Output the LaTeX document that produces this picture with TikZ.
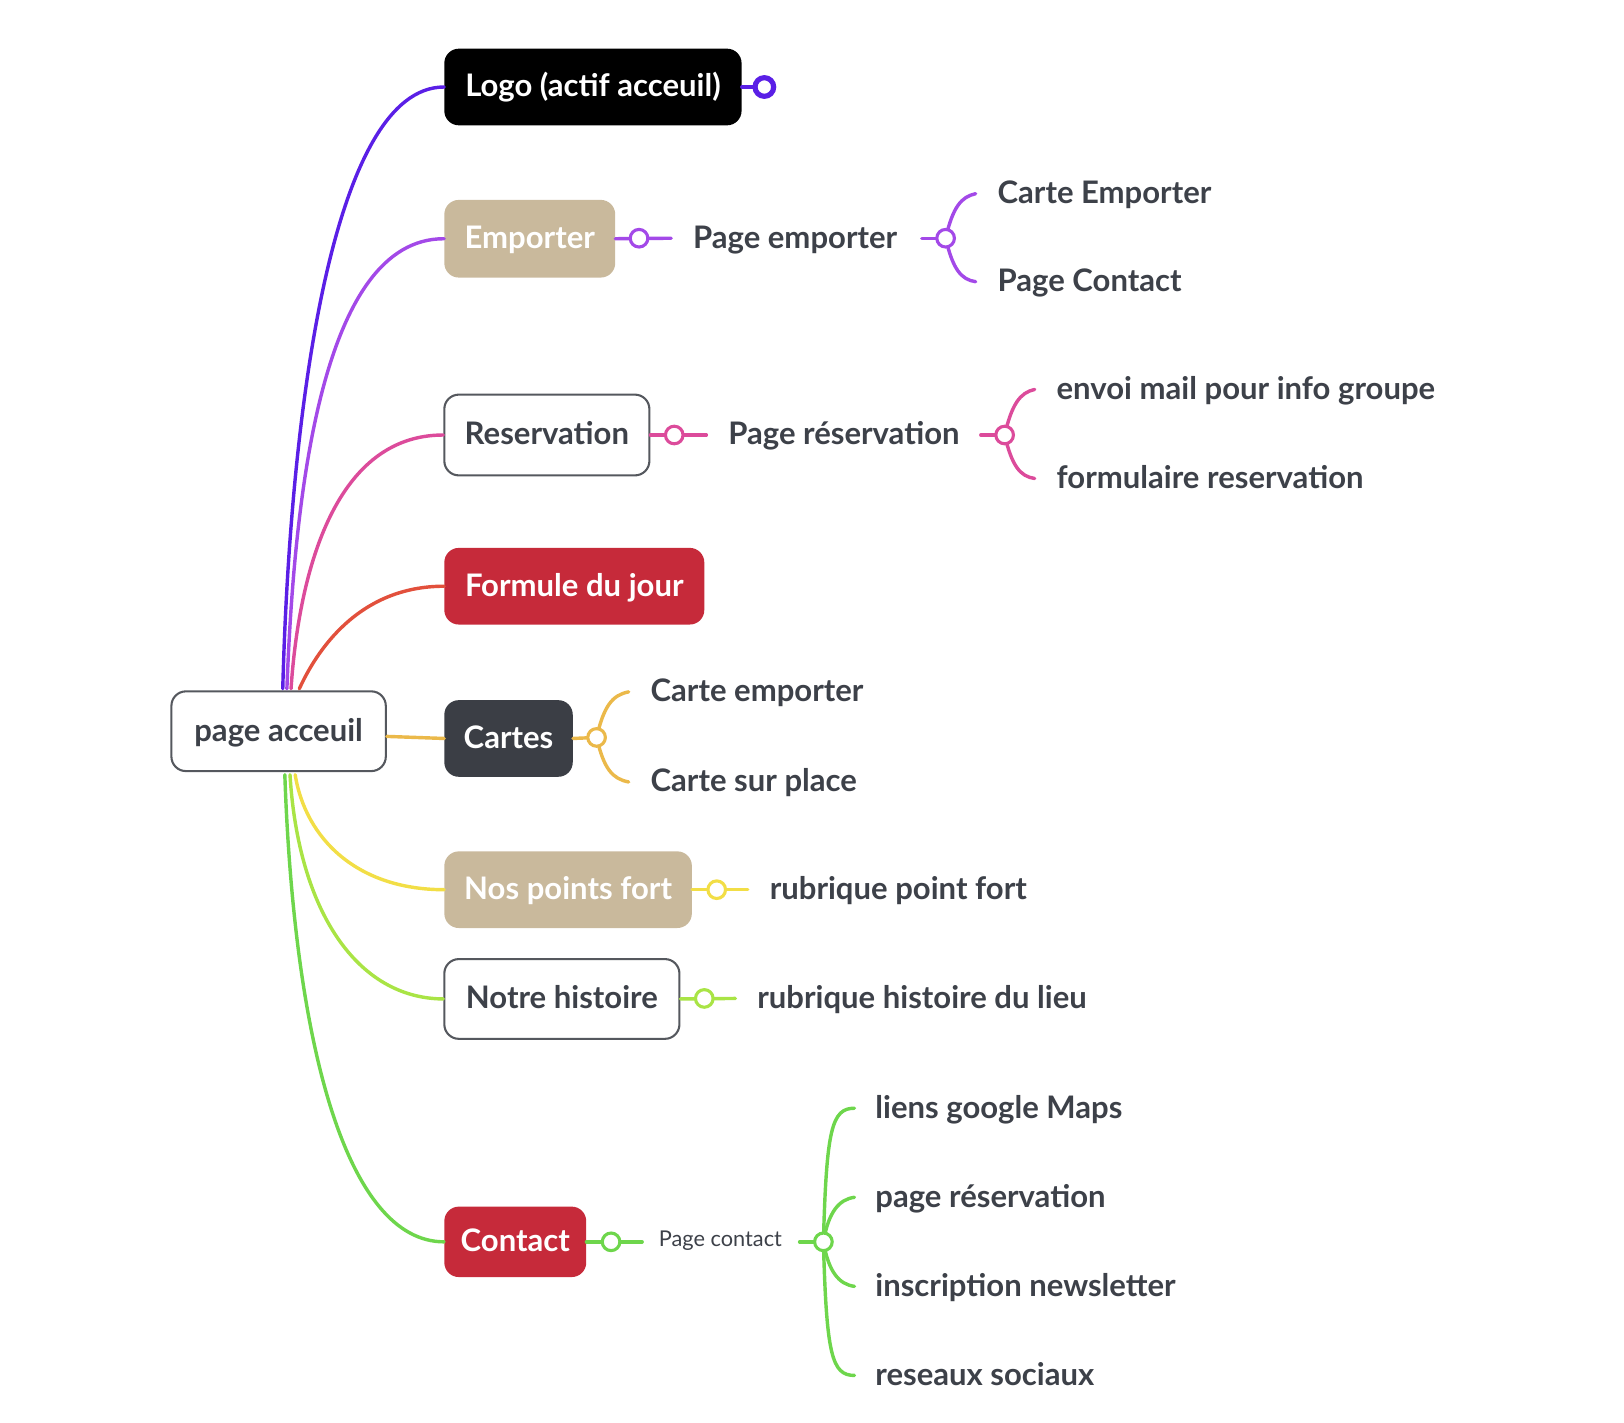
\documentclass[tikz,border=0pt]{standalone}
\usepackage{fontspec}
\setmainfont{Lato}
\usetikzlibrary{calc}
\definecolor{cLogo}{HTML}{5A1FE6}
\definecolor{cEmp}{HTML}{A349E8}
\definecolor{cRes}{HTML}{DC4B9B}
\definecolor{cForm}{HTML}{E2503C}
\definecolor{cCart}{HTML}{EBB94A}
\definecolor{cNos}{HTML}{F2DE46}
\definecolor{cHist}{HTML}{A9E445}
\definecolor{cCont}{HTML}{6ED64C}
\definecolor{beige}{HTML}{C9B99C}
\definecolor{boxred}{HTML}{C62A3A}
\definecolor{darkbox}{HTML}{3B3E45}
\definecolor{txt}{HTML}{3D4149}
\definecolor{bord}{HTML}{55585E}
\begin{document}
\begin{tikzpicture}[x=1pt,y=-1pt,
  box/.style={rounded corners=14pt, inner sep=0pt, font=\fontsize{30}{33}\selectfont\bfseries, text=white, text height=23pt, text depth=4pt},
  wbox/.style={box, draw=bord, fill=white, text=txt, line width=2pt},
  lab/.style={font=\fontsize{30}{33}\selectfont\bfseries, text=txt, anchor=west, inner sep=0pt, text height=23pt, text depth=4pt},
  slab/.style={font=\fontsize{21}{24}\selectfont, text=txt, anchor=west, inner sep=0pt},
  hub/.style={circle, draw, fill=white, line width=3pt, minimum size=17pt, inner sep=0pt},
  conn/.style={line width=3.3pt, line cap=round}]
\useasboundingbox (0,0) rectangle (1568,1373);

% main boxes
\node[wbox, minimum width=207pt, minimum height=77pt] (root) at (269,706) {page acceuil};
\node[box, fill=black, minimum width=287pt, minimum height=74pt] (logo) at (572.5,84) {Logo (actif acceuil)};
\node[box, fill=beige, minimum width=165pt, minimum height=75pt] (emp) at (511.5,230.5) {Emporter};
\node[wbox, minimum width=198pt, minimum height=78pt] (res) at (528,420) {Reservation};
\node[box, fill=boxred, minimum width=251pt, minimum height=74pt] (form) at (554.5,566) {Formule du jour};
\node[box, fill=darkbox, minimum width=124pt, minimum height=74pt] (cartes) at (491,713) {Cartes};
\node[box, fill=beige, minimum width=239pt, minimum height=74pt] (nos) at (548.5,859) {Nos points fort};
\node[wbox, minimum width=227pt, minimum height=77pt] (hist) at (542.5,964.5) {Notre histoire};
\node[box, fill=boxred, minimum width=137pt, minimum height=68pt] (contact) at (497.5,1199) {Contact};

% root connectors
\coordinate (t1) at (273,665);
\coordinate (t2) at (277,665);
\coordinate (t3) at (281,665);
\coordinate (t4) at (289,665);
\coordinate (b1) at (285,748);
\coordinate (b2) at (280,748);
\coordinate (b3) at (275,748);
\draw[conn, cLogo] (t1) .. controls (280,400) and (320,84) .. (logo.west);
\draw[conn, cEmp] (t2) .. controls (284,480) and (310,230) .. (emp.west);
\draw[conn, cRes] (t3) .. controls (288,560) and (320,420) .. (res.west);
\draw[conn, cForm] (t4) .. controls (305,630) and (345,566) .. (form.west);
\draw[conn, cCart] ($(root.east)+(0,5)$) -- (cartes.west);
\draw[conn, cNos] (b1) .. controls (295,810) and (345,859) .. (nos.west);
\draw[conn, cHist] (b2) .. controls (288,880) and (345,964) .. (hist.west);
\draw[conn, cCont] (b3) .. controls (284,1010) and (335,1199) .. (contact.west);

% Logo hub
\draw[conn, cLogo] (logo.east) -- (730,84);
\node[hub, draw=cLogo, line width=5pt, minimum size=18pt] (hl) at (738,84) {};

% Emporter branch
\node[lab] (pemp) at (669,230) {Page emporter};
\node[lab] (ce1) at (963,187) {Carte Emporter};
\node[lab] (ce2) at (963,272) {Page Contact};
\coordinate (ce1c) at (942,187);
\coordinate (ce2c) at (942,272);
\draw[conn, cEmp] (emp.east) -- (648,230);
\node[hub, draw=cEmp] (he1) at (617,230) {};
\draw[conn, cEmp] (890,230) -- (913,230);
\draw[conn, cEmp] (913,230) .. controls (920,200) and (928,190) .. (ce1c);
\draw[conn, cEmp] (913,230) .. controls (920,260) and (928,270) .. (ce2c);
\node[hub, draw=cEmp] (he2) at (913,230) {};

% Reservation branch
\node[lab] (pres) at (703,420) {Page réservation};
\node[lab] (cr1) at (1020,376) {envoi mail pour info groupe};
\node[lab] (cr2) at (1020,462) {formulaire reservation};
\coordinate (cr1c) at (999,376);
\coordinate (cr2c) at (999,462);
\draw[conn, cRes] (res.east) -- (682,420);
\node[hub, draw=cRes] (hr1) at (651,420) {};
\draw[conn, cRes] (947,420) -- (970,420);
\draw[conn, cRes] (970,420) .. controls (977,390) and (985,379) .. (cr1c);
\draw[conn, cRes] (970,420) .. controls (977,450) and (985,460) .. (cr2c);
\node[hub, draw=cRes] (hr2) at (970,420) {};

% Cartes branch
\node[lab] (cc1) at (628,668) {Carte emporter};
\node[lab] (cc2) at (628,755) {Carte sur place};
\coordinate (cc1c) at (607,668);
\coordinate (cc2c) at (607,755);
\draw[conn, cCart] (cartes.east) -- (576,712);
\draw[conn, cCart] (576,712) .. controls (583,682) and (591,671) .. (cc1c);
\draw[conn, cCart] (576,712) .. controls (583,742) and (591,752) .. (cc2c);
\node[hub, draw=cCart] (hc) at (576,712) {};

% Nos points fort
\node[lab] (pn) at (743,859) {rubrique point fort};
\draw[conn, cNos] (nos.east) -- (722,859);
\node[hub, draw=cNos] (hn) at (692,859) {};

% Notre histoire
\node[lab] (ph) at (731,964) {rubrique histoire du lieu};
\draw[conn, cHist] (hist.east) -- (710,964);
\node[hub, draw=cHist] (hh) at (680,964) {};

% Contact branch
\node[slab] (pc) at (636,1198) {Page contact};
\node[lab] (k1) at (845,1070) {liens google Maps};
\node[lab] (k2) at (845,1156) {page réservation};
\node[lab] (k3) at (845,1242) {inscription newsletter};
\node[lab] (k4) at (845,1328) {reseaux sociaux};
\coordinate (k1c) at (825,1070);
\coordinate (k2c) at (825,1156);
\coordinate (k3c) at (825,1242);
\coordinate (k4c) at (825,1328);
\draw[conn, cCont] (contact.east) -- (620,1199);
\node[hub, draw=cCont] (hk1) at (590,1199) {};
\draw[conn, cCont] (772,1199) -- (795,1199);
\draw[conn, cCont] (795,1199) .. controls (798,1090) and (803,1070) .. (k1c);
\draw[conn, cCont] (795,1199) .. controls (800,1170) and (810,1158) .. (k2c);
\draw[conn, cCont] (795,1199) .. controls (800,1228) and (810,1240) .. (k3c);
\draw[conn, cCont] (795,1199) .. controls (798,1308) and (803,1328) .. (k4c);
\node[hub, draw=cCont] (hk2) at (795,1199) {};
\end{tikzpicture}
\end{document}
